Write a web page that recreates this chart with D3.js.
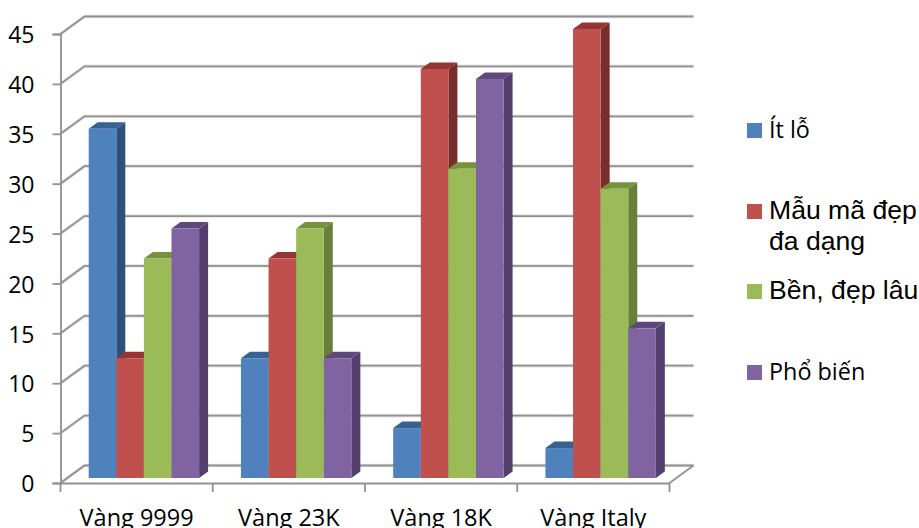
<!DOCTYPE html>
<html>
<head>
<meta charset="utf-8">
<script src="https://cdn.jsdelivr.net/npm/d3@7/dist/d3.min.js"></script>
<style>
  html, body { margin: 0; padding: 0; background: #fff; overflow: hidden; }
  svg { display: block; }
</style>
</head>
<body>
<svg id="chart" width="919" height="528"></svg>
<script>
// Survey results by gold type
const categories = ["Vàng 9999", "Vàng 23K", "Vàng 18K", "Vàng Italy"];
const seriesNames = [["Ít lỗ"], ["Mẫu mã đẹp", "đa dạng"], ["Bền, đẹp lâu"], ["Phổ biến"]];
const itLo = [35, 12, 5, 3];
const mauMa = [12, 22, 41, 45];
const ben = [22, 25, 31, 29];
const phoBien = [25, 12, 40, 15];
const yTicks = [0, 5, 10, 15, 20, 25, 30, 35, 40, 45];
const frontColors = ["#4F81BD", "#C0504D", "#9BBB59", "#8064A2"];
const sideColors = ["#2F5179", "#7A2E2C", "#677F39", "#533F6E"];
const topColors = ["#386090", "#963634", "#76923C", "#5F497A"];

const seriesValues = [itLo, mauMa, ben, phoBien];
const svg = d3.select("#chart");

// Oblique projection of the box: back wall is shifted from the front plane
const wallDx = 24, wallDy = -17.5;
const barDx = 9, barDy = -6.5, barLift = -5;
const gridColor = "#919191";

const x = d3.scaleBand().domain(categories).range([60.5, 669.5]);
const inner = d3.scaleBand().domain(d3.range(seriesNames.length)).range([28.2, 138.6]);
const y = d3.scaleLinear().domain([0, 45]).range([483, 34]);

// Gridlines run along the left wall and across the back wall
const line = d3.line();
const gridPath = v => [
  [x.range()[0], y(v)],
  [x.range()[0] + wallDx, y(v) + wallDy],
  [x.range()[1] + wallDx, y(v) + wallDy]
];
const grid = svg.append("g").attr("fill", "none");
grid.selectAll("path.halo").data(yTicks).join("path")
  .attr("class", "halo")
  .attr("d", v => line(gridPath(v)))
  .attr("stroke", "#000").attr("stroke-opacity", 0.1).attr("stroke-width", 3.6);
grid.selectAll("path.rule").data(yTicks).join("path")
  .attr("class", "rule")
  .attr("d", v => line(gridPath(v)))
  .attr("stroke", gridColor).attr("stroke-width", 1.8);

// Front edge of the floor, joined to the back wall
grid.append("path")
  .attr("d", line([
    [x.range()[1], y(0)],
    [x.range()[1] + wallDx, y(0) + wallDy]
  ]))
  .attr("stroke", gridColor).attr("stroke-width", 1.8);

// Bars: side and top faces first, then the front, left to right so neighbours overlap
const bars = svg.append("g");
categories.forEach((cat, ci) => {
  seriesValues.forEach((vals, si) => {
    const x0 = x(cat) + inner(si), x1 = x0 + inner.bandwidth();
    const yTop = y(vals[ci]) + barLift, yBase = y(0) + barLift;
    const g = bars.append("g");
    g.append("path")
      .attr("d", line([[x1, yTop], [x1 + barDx, yTop + barDy], [x1 + barDx, yBase + barDy], [x1, yBase]]) + "Z")
      .attr("fill", sideColors[si]);
    g.append("path")
      .attr("d", line([[x0, yTop], [x0 + barDx, yTop + barDy], [x1 + barDx, yTop + barDy], [x1, yTop]]) + "Z")
      .attr("fill", topColors[si]);
    g.append("rect")
      .attr("x", x0).attr("y", yTop)
      .attr("width", x1 - x0).attr("height", yBase - yTop)
      .attr("fill", frontColors[si]);
  });
});

// Axes
const yAxis = d3.axisLeft(y).tickValues(yTicks).tickSize(8).tickPadding(18);
const gy = svg.append("g").attr("transform", "translate(60.5,0)").call(yAxis);
const tickPositions = d3.range(categories.length + 1).map(i => x.range()[0] + i * x.bandwidth());
const xAxis = d3.axisBottom(x).tickSize(0).tickPadding(26);
const gx = svg.append("g").attr("transform", `translate(0,${y(0)})`).call(xAxis);
gx.selectAll(".tick-mark").data(tickPositions).join("line")
  .attr("class", "tick-mark")
  .attr("x1", d => d).attr("x2", d => d)
  .attr("y1", 0).attr("y2", 9)
  .attr("stroke", gridColor).attr("stroke-width", 1.8);

[gx, gy].forEach(g => {
  g.selectAll(".domain, .tick line")
    .attr("stroke", gridColor).attr("stroke-width", 1.8);
  g.selectAll("text")
    .attr("fill", "#000")
    .style("font-family", "'Open Sans', sans-serif");
});
gy.selectAll("text").style("font-size", "23px").attr("dy", "0.38em");
gx.selectAll("text").style("font-size", "23.5px");

// Legend
const legendStyles = [
  { top: 123, font: "'Open Sans', sans-serif", size: 23.4 },
  { top: 204, font: "'Liberation Sans', sans-serif", size: 26.6 },
  { top: 284, font: "'Liberation Sans', sans-serif", size: 26.6 },
  { top: 365, font: "'Open Sans', sans-serif", size: 23.4 }
];
const legend = svg.append("g");
legendStyles.forEach((row, i) => {
  legend.append("rect")
    .attr("x", 747).attr("y", row.top)
    .attr("width", 15).attr("height", 15)
    .attr("fill", frontColors[i]);
  const label = legend.append("text")
    .attr("font-family", row.font)
    .attr("font-size", row.size)
    .attr("fill", "#000");
  seriesNames[i].forEach((t, k) => {
    label.append("tspan")
      .attr("x", 769)
      .attr("y", row.top + 15 + k * 31)
      .text(t);
  });
});
</script>
</body>
</html>
